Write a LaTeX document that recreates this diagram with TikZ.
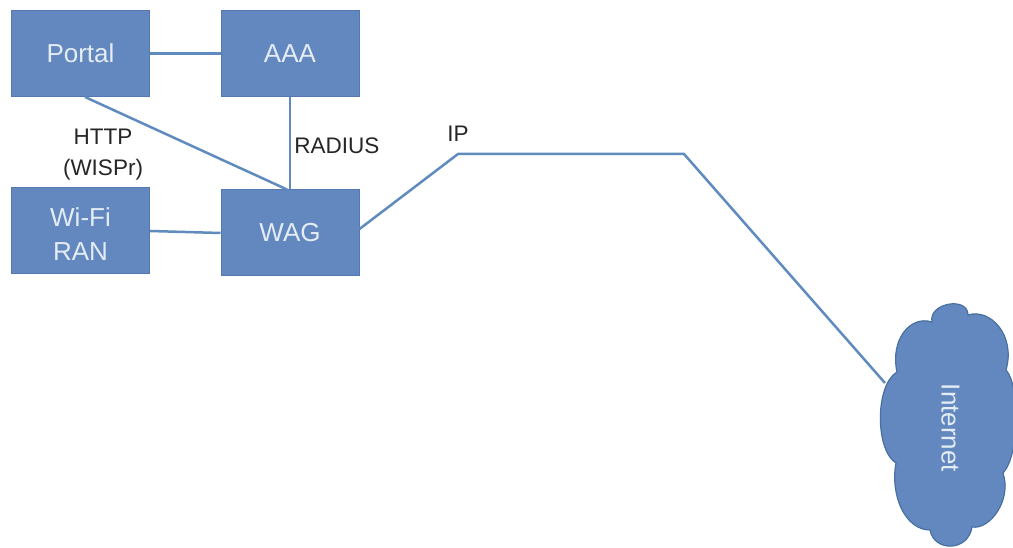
\documentclass[tikz,border=0pt]{standalone}
\usepackage{fontspec}
\setmainfont{Liberation Sans}
\definecolor{boxfill}{HTML}{6388C0}
\definecolor{boxedge}{HTML}{5479B2}
\definecolor{linec}{HTML}{5F8BBE}
\definecolor{cloudedge}{HTML}{47709F}
\definecolor{boxtext}{HTML}{E4ECF4}
\begin{document}
\begin{tikzpicture}[x=1pt,y=-1pt,
  boxnode/.style={draw=boxedge,fill=boxfill,line width=1pt,minimum width=138pt,minimum height=86pt,inner sep=0pt,text=boxtext,font=\fontsize{26}{34}\selectfont,align=center},
  link/.style={draw=linec,line width=2.5pt},
  lbl/.style={inner sep=0pt,text=black!85,font=\fontsize{22.5}{31}\selectfont,align=center}]
\useasboundingbox (0,0) rectangle (1013,548);
\fill[white] (0,0) rectangle (1013,548);
\node[boxnode] (portal) at (80.5,53.5) {Portal};
\node[boxnode] (aaa) at (290,53.5) {AAA};
\node[boxnode] (wifi) at (80.5,231) {\rule{0pt}{25pt}Wi-Fi\\RAN};
\node[boxnode] (wag) at (290,233) {WAG};
\coordinate (b1) at (458,154);
\coordinate (b2) at (684,154);
\coordinate (c1) at (885,383);
\draw[link] (portal.east) -- (aaa.west);
\draw[link] (aaa.south) -- (wag.north);
\draw[link] ([xshift=4.5pt]portal.south) -- ([xshift=-3pt]wag.north);
\draw[link] (wifi.east) -- (wag.west);
\draw[link] ([yshift=4pt]wag.east) -- (b1) -- (b2) -- (c1);
\draw[fill=boxfill,draw=cloudedge,line width=1.2pt]
  (932,322) .. controls (928,303) and (968,296) .. (968,315)
  .. controls (990,308) and (1016,335) .. (1006,370)
  .. controls (1020,385) and (1020,455) .. (1003,473)
  .. controls (1012,500) and (990,530) .. (972,527)
  .. controls (968,552) and (934,552) .. (930,530)
  .. controls (905,530) and (890,495) .. (896,463)
  .. controls (875,450) and (875,385) .. (897,372)
  .. controls (890,340) and (910,315) .. (932,322) -- cycle;
\node[inner sep=0pt,rotate=-90,text=boxtext,font=\fontsize{26}{30}\selectfont] (inet) at (950.5,428) {Internet};
\node[lbl] (http) at (103,155) {HTTP\\(WISPr)};
\node[lbl] (radius) at (337,146) {RADIUS};
\node[lbl] (ip) at (458,134) {IP};
\end{tikzpicture}
\end{document}
